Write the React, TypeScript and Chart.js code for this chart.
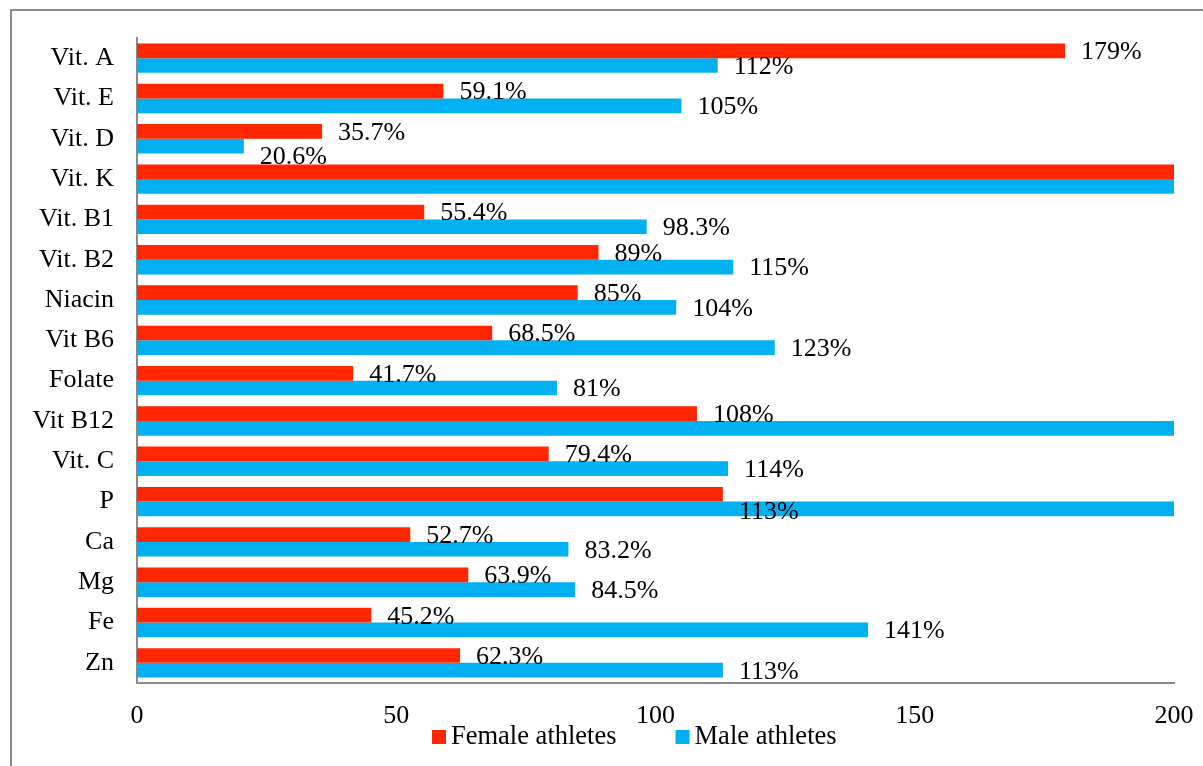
import React, { useEffect, useRef } from "react";
import { Chart, registerables } from "chart.js";

Chart.register(...registerables);

const categories = [
  "Vit. A", "Vit. E", "Vit. D", "Vit. K", "Vit. B1", "Vit. B2", "Niacin", "Vit B6",
  "Folate", "Vit B12", "Vit. C", "P", "Ca", "Mg", "Fe", "Zn",
];
// Values above 200 run off the axis in the original (no label shown).
const femaleValues = [179, 59.1, 35.7, 240, 55.4, 89, 85, 68.5, 41.7, 108, 79.4, 113, 52.7, 63.9, 45.2, 62.3];
const maleValues = [112, 105, 20.6, 260, 98.3, 115, 104, 123, 81, 230, 114, 220, 83.2, 84.5, 141, 113];
const seriesNames = ["Female athletes", "Male athletes"];
const seriesColors = ["#FF2600", "#00B0F0"];
const xTicks = [0, 50, 100, 150, 200];

const FONT_FAMILY = "'Liberation Serif', 'Times New Roman', serif";
const FONT_SIZE = 26;
const AXIS_COLOR = "#8a8a8a";

// Excel-like manual nudges of a few data labels (datasetIndex-dataIndex -> dy)
const labelNudge: Record<string, number> = { "1-2": 10, "0-11": 16 };

const framePlugin = {
  id: "frame",
  beforeDraw(chart: any) {
    const ctx = chart.ctx;
    ctx.save();
    ctx.fillStyle = "#ffffff";
    ctx.fillRect(0, 0, chart.width, chart.height);
    ctx.strokeStyle = "#8c8c8c";
    ctx.lineWidth = 2;
    ctx.strokeRect(11, 10, chart.width + 20, chart.height + 20);
    ctx.restore();
  },
};

const dataLabelPlugin = {
  id: "dataLabels",
  afterDatasetsDraw(chart: any) {
    const ctx = chart.ctx;
    const max = chart.scales.x.max;
    ctx.save();
    ctx.font = `${FONT_SIZE}px ${FONT_FAMILY}`;
    ctx.fillStyle = "#000";
    ctx.textAlign = "left";
    ctx.textBaseline = "middle";
    chart.data.datasets.forEach((ds: any, di: number) => {
      const meta = chart.getDatasetMeta(di);
      meta.data.forEach((bar: any, i: number) => {
        const v = ds.data[i];
        if (v > max) return;
        const dy = labelNudge[`${di}-${i}`] || 0;
        ctx.fillText(`${v}%`, bar.x + 16, bar.y + 1.5 + dy);
      });
    });
    ctx.restore();
  },
};

const legendPlugin = {
  id: "customLegend",
  afterDraw(chart: any) {
    const ctx = chart.ctx;
    ctx.save();
    ctx.font = `26.5px ${FONT_FAMILY}`;
    ctx.textAlign = "left";
    ctx.textBaseline = "alphabetic";
    const baseline = 744;
    let x = 432;
    seriesNames.forEach((name, i) => {
      ctx.fillStyle = seriesColors[i];
      ctx.fillRect(x, baseline - 14, 14, 14);
      ctx.fillStyle = "#000";
      ctx.fillText(name, x + 19, baseline);
      x += 19 + ctx.measureText(name).width + 59;
    });
    ctx.restore();
  },
};

export default function App() {
  const ref = useRef<HTMLCanvasElement | null>(null);
  useEffect(() => {
    if (!ref.current) return;
    const font = { family: FONT_FAMILY, size: FONT_SIZE };
    const chart = new Chart(ref.current, {
      type: "bar",
      data: {
        labels: categories,
        datasets: [
          { label: seriesNames[0], data: femaleValues, backgroundColor: seriesColors[0], borderWidth: 0 },
          { label: seriesNames[1], data: maleValues, backgroundColor: seriesColors[1], borderWidth: 0 },
        ],
      },
      options: {
        indexAxis: "y",
        responsive: false,
        animation: false,
        datasets: { bar: { barPercentage: 1, categoryPercentage: 0.73 } },
        layout: { padding: { top: 38, right: 29, left: 0, bottom: 0 } },
        scales: {
          x: {
            min: 0,
            max: 200,
            afterBuildTicks: (s: any) => {
              s.ticks = xTicks.map((v) => ({ value: v }));
            },
            ticks: { font, color: "#000", padding: 18 },
            grid: { display: false, drawTicks: false },
            border: { display: true, color: AXIS_COLOR, width: 2 },
            afterFit: (s: any) => {
              s.height = 83;
              s.paddingLeft = 0;
              s.paddingRight = 0;
            },
          },
          y: {
            ticks: { font, color: "#000", padding: 23 },
            grid: { display: false, drawTicks: false },
            border: { display: true, color: AXIS_COLOR, width: 2 },
            afterFit: (s: any) => {
              s.width = 137;
              s.paddingTop = 0;
              s.paddingBottom = 0;
            },
          },
        },
        plugins: {
          legend: { display: false },
          tooltip: { enabled: false },
        },
      },
      plugins: [framePlugin, dataLabelPlugin, legendPlugin],
    } as any);
    return () => chart.destroy();
  }, []);
  return (
    <div style={{ position: "absolute", left: 0, top: 0, width: 1203, height: 766 }}>
      <canvas ref={ref} width={1203} height={766} style={{ display: "block" }} />
    </div>
  );
}
